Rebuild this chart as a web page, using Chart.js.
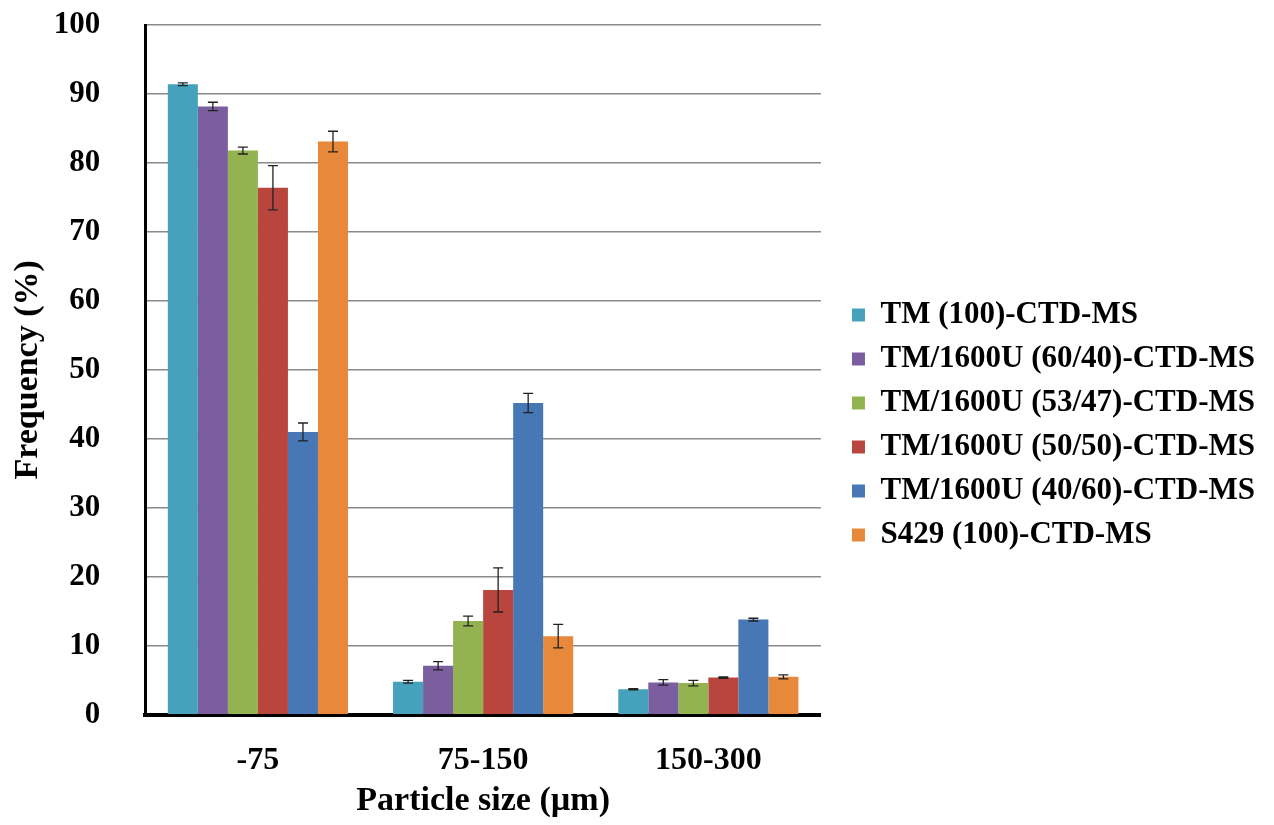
<!DOCTYPE html>
<html>
<head>
<meta charset="utf-8">
<script src="https://cdn.jsdelivr.net/npm/chart.js@4.4.1/dist/chart.umd.min.js"></script>
<style>
  html, body { margin: 0; padding: 0; background: #fff; }
  #wrap { width: 1274px; height: 825px; position: relative; }
</style>
</head>
<body>
<div id="wrap"><canvas id="sizeChart"></canvas></div>
<script>
// categories (particle size, µm)
const sizeLabels = ['-75', '75-150', '150-300'];
const yTicks = [0, 10, 20, 30, 40, 50, 60, 70, 80, 90, 100];

// frequency (%) per sample
const tm100 = [91.4, 4.8, 3.7];
const tm6040 = [88.2, 7.1, 4.7];
const tm5347 = [81.8, 13.6, 4.6];
const tm5050 = [76.4, 18.1, 5.4];
const tm4060 = [41.0, 45.2, 13.8];
const s429 = [83.1, 11.4, 5.5];

// error (+/-)
const tm100Err = [0.2, 0.2, 0.1];
const tm6040Err = [0.6, 0.6, 0.4];
const tm5347Err = [0.5, 0.7, 0.4];
const tm5050Err = [3.2, 3.2, 0.1];
const tm4060Err = [1.3, 1.4, 0.2];
const s429Err = [1.5, 1.7, 0.3];

const seriesNames = [
  'TM (100)-CTD-MS',
  'TM/1600U (60/40)-CTD-MS',
  'TM/1600U (53/47)-CTD-MS',
  'TM/1600U (50/50)-CTD-MS',
  'TM/1600U (40/60)-CTD-MS',
  'S429 (100)-CTD-MS'
];
const seriesValues = [tm100, tm6040, tm5347, tm5050, tm4060, s429];
const seriesErrors = [tm100Err, tm6040Err, tm5347Err, tm5050Err, tm4060Err, s429Err];
const seriesColors = ['#46a2bc', '#7a5e9e', '#93b250', '#b8463f', '#4777b4', '#e8883b'];

const serif = "'Liberation Serif', 'Times New Roman', serif";

// error bars drawn on top of each bar
const errorBars = {
  id: 'errorBars',
  afterDatasetsDraw(chart) {
    const ctx = chart.ctx;
    const y = chart.scales.y;
    ctx.save();
    ctx.strokeStyle = '#222';
    ctx.lineWidth = 1.3;
    chart.data.datasets.forEach(function(ds, i) {
      const meta = chart.getDatasetMeta(i);
      meta.data.forEach(function(bar, j) {
        const v = ds.data[j];
        const e = seriesErrors[i][j];
        const top = y.getPixelForValue(v + e);
        const bot = y.getPixelForValue(v - e);
        ctx.beginPath();
        ctx.moveTo(bar.x, top);
        ctx.lineTo(bar.x, bot);
        ctx.moveTo(bar.x - 5, top);
        ctx.lineTo(bar.x + 5, top);
        ctx.moveTo(bar.x - 5, bot);
        ctx.lineTo(bar.x + 5, bot);
        ctx.stroke();
      });
    });
    ctx.restore();
  }
};

const ctx = document.getElementById('sizeChart').getContext('2d');
new Chart(ctx, {
  type: 'bar',
  data: {
    labels: sizeLabels,
    datasets: seriesNames.map(function(name, i) {
      return {
        label: name,
        data: seriesValues[i],
        backgroundColor: seriesColors[i],
        borderWidth: 0,
        categoryPercentage: 0.8,
        barPercentage: 1.0
      };
    })
  },
  options: {
    responsive: true,
    maintainAspectRatio: false,
    animation: false,
    layout: {
      padding: { top: 25, left: 4, right: 9, bottom: 0 }
    },
    plugins: {
      legend: {
        display: true,
        position: 'right',
        align: 'center',
        maxWidth: 460,
        labels: {
          boxWidth: 13,
          boxHeight: 13,
          padding: 13,
          color: '#000',
          font: { family: serif, size: 31, weight: 'bold' }
        }
      },
      tooltip: { enabled: false }
    },
    scales: {
      x: {
        grid: { display: false, drawTicks: true, tickLength: 26 },
        border: { display: true, color: '#000', width: 4 },
        ticks: {
          padding: 1,
          color: '#000',
          font: { family: serif, size: 32, weight: 'bold' }
        },
        title: {
          display: true,
          text: 'Particle size (µm)',
          color: '#000',
          padding: { top: 0, bottom: 3 },
          font: { family: serif, size: 34, weight: 'bold' }
        }
      },
      y: {
        min: 0,
        max: 100,
        afterBuildTicks: function(axis) {
          axis.ticks = yTicks.map(function(v) { return { value: v }; });
        },
        grid: {
          color: '#8a8a8a',
          lineWidth: 1.5,
          drawTicks: true,
          tickLength: 44,
          tickColor: 'rgba(0,0,0,0)'
        },
        border: { display: true, color: '#000', width: 3 },
        ticks: {
          padding: 1,
          color: '#000',
          font: { family: serif, size: 31, weight: 'bold' }
        },
        title: {
          display: true,
          text: 'Frequency (%)',
          color: '#000',
          padding: { top: 4, bottom: 4 },
          font: { family: serif, size: 34, weight: 'bold' }
        }
      },
      // empty axis that only keeps a gap between the plot and the legend
      gap: {
        type: 'linear',
        position: 'right',
        display: true,
        grid: { display: false, drawTicks: false },
        border: { display: false },
        ticks: { display: false },
        afterFit: function(scale) { scale.width = 18; }
      }
    }
  },
  plugins: [errorBars]
});
</script>
</body>
</html>
